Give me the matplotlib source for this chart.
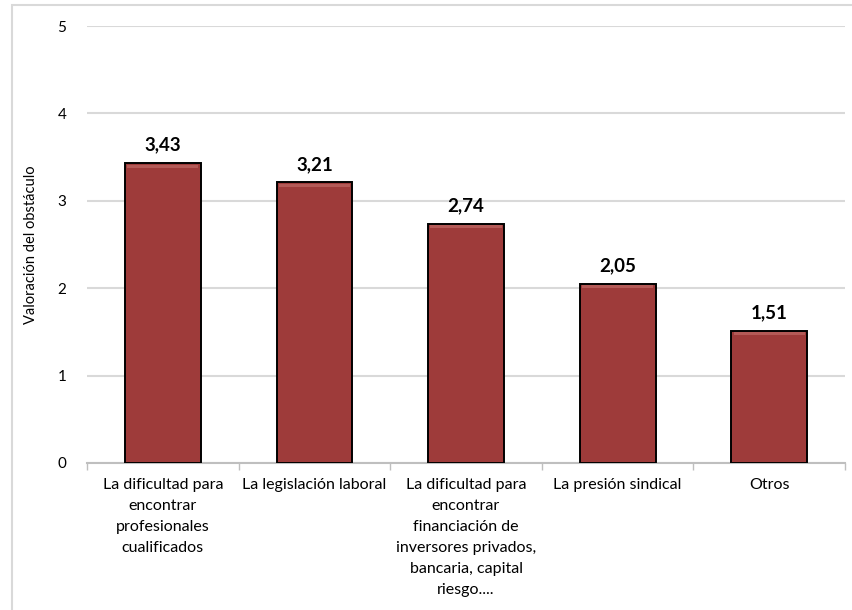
import matplotlib
matplotlib.use("Agg")
import matplotlib.pyplot as plt
import matplotlib.patches as patches
import numpy as np

# data
categorias = [
    "La dificultad para\nencontrar\nprofesionales\ncualificados",
    "La legislación laboral",
    "La dificultad para\nencontrar\nfinanciación de\ninversores privados,\nbancaria, capital\nriesgo....",
    "La presión sindical",
    "Otros",
]
valores = [3.43, 3.21, 2.74, 2.05, 1.51]
etiquetas = ["3,43", "3,21", "2,74", "2,05", "1,51"]
y_ticks = [0, 1, 2, 3, 4, 5]

plt.rcParams['font.family'] = ['Lato', 'DejaVu Sans']

fig = plt.figure(figsize=(8.52, 6.10), dpi=100)
ax = fig.add_axes([87 / 852, 1 - 463 / 610, (845 - 87) / 852, (463 - 26) / 610])

# outer chart frame
fig.patches.append(patches.Rectangle((12 / 852, -0.01), 1.0, 1 - 5 / 610 + 0.01,
                                     transform=fig.transFigure, fill=False,
                                     edgecolor="#d9d9d9", linewidth=1.5))

x = np.arange(len(valores))
bars = ax.bar(x, valores, width=0.5, color="#9e3b3a", edgecolor="black",
              linewidth=1.4, zorder=3)

# soft top bevel
for b in bars:
    ax.add_patch(patches.Rectangle((b.get_x() + 0.015, b.get_height() - 0.05),
                                   b.get_width() - 0.03, 0.035,
                                   color="#b45a57", zorder=4, linewidth=0))

for xi, v, t in zip(x, valores, etiquetas):
    ax.text(xi, v + 0.11, t, ha="center", va="bottom", fontsize=13.5,
            fontweight="bold", color="black")

ax.set_xlim(-0.5, len(valores) - 0.5)
ax.set_ylim(0, 5)
ax.set_yticks(y_ticks)
ax.set_yticklabels([str(t) for t in y_ticks], fontsize=11)
ax.tick_params(axis="y", length=0, pad=15)
ax.yaxis.grid(True, color="#d9d9d9", linewidth=1.5, zorder=0)
ax.set_axisbelow(True)

ax.set_xticks(x)
ax.set_xticklabels(categorias, fontsize=11.5, linespacing=1.63, va="top")
ax.tick_params(axis="x", length=0, pad=11)
ax.set_xticks(np.arange(-0.5, len(valores), 1.0), minor=True)
ax.tick_params(axis="x", which="minor", length=5, color="#bfbfbf", width=1)

for s in ["top", "right", "left"]:
    ax.spines[s].set_visible(False)
ax.spines["bottom"].set_color("#bfbfbf")
ax.spines["bottom"].set_linewidth(1.5)

ax.set_ylabel("Valoración del obstáculo", fontsize=10.5)
ax.yaxis.set_label_coords(-0.064, 0.5)

fig.savefig("out.png", dpi=100)
